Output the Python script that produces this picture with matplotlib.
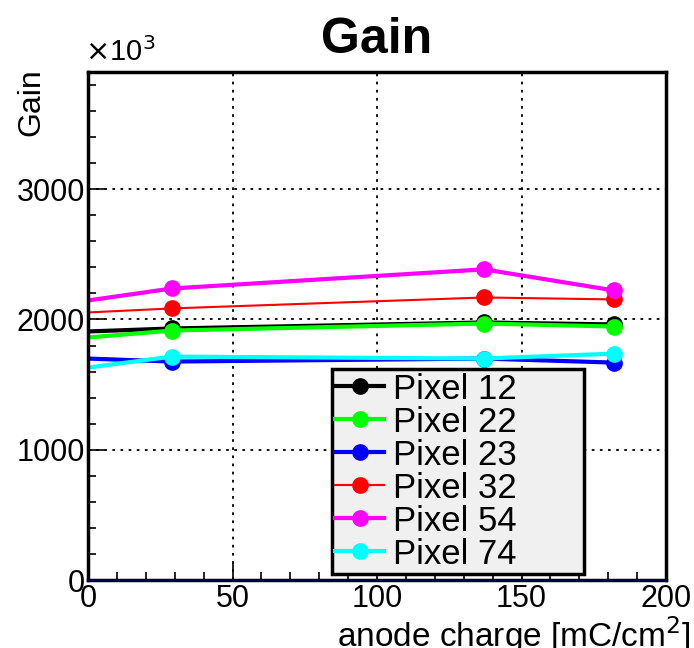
import matplotlib
matplotlib.use("Agg")
import matplotlib.pyplot as plt
from matplotlib.ticker import MultipleLocator

plt.rcParams["font.family"] = ["Liberation Sans", "DejaVu Sans"]

# anode charge [mC/cm^2]; first point sits on the axis edge (no marker drawn)
charge = [0, 29, 137, 182]

labels = ["Pixel 12", "Pixel 22", "Pixel 23", "Pixel 32", "Pixel 54", "Pixel 74"]
gain_p12 = [1908, 1931, 1977, 1962]
gain_p22 = [1862, 1915, 1969, 1946]
gain_p23 = [1700, 1677, 1700, 1669]
gain_p32 = [2054, 2085, 2169, 2154]
gain_p54 = [2146, 2238, 2385, 2223]
gain_p74 = [1631, 1715, 1700, 1738]

series = [gain_p12, gain_p22, gain_p23, gain_p32, gain_p54, gain_p74]
colors = ["black", "#00ff00", "#0000ff", "#ff0000", "#ff00ff", "#00ffff"]
widths = [3.0, 3.0, 3.0, 1.5, 3.0, 3.0]

fig = plt.figure(figsize=(6.94, 6.48), dpi=100)
ax = fig.add_axes([88 / 694, 68 / 648, 578 / 694, 508 / 648])

for vals, lab, c, lw in zip(series, labels, colors, widths):
    ax.plot(charge, vals, color=c, lw=lw, marker="o", ms=11, markevery=[1, 2, 3],
            label=lab)

ax.set_xlim(0, 200)
ax.set_ylim(0, 3900)

ax.xaxis.set_major_locator(MultipleLocator(50))
ax.xaxis.set_minor_locator(MultipleLocator(10))
ax.yaxis.set_major_locator(MultipleLocator(1000))
ax.yaxis.set_minor_locator(MultipleLocator(200))
ax.tick_params(which="both", direction="in", labelsize=22, top=False, right=False)
ax.tick_params(which="major", length=12, width=1.2)
ax.tick_params(which="minor", length=6, width=1.2)
ax.tick_params(axis="x", pad=3)
ax.tick_params(axis="y", pad=2)

ax.grid(which="major", color="black", linestyle=(0, (1.5, 3)), linewidth=1.3)

for s in ax.spines.values():
    s.set_linewidth(2.5)
ax.spines["bottom"].set_color("#000040")

ax.set_title("Gain", fontsize=36, fontweight="bold", pad=14)
ax.text(-0.005, 1.01, r"$\times$10$^3$", transform=ax.transAxes, fontsize=21,
        ha="left", va="bottom")
ax.set_ylabel("Gain", fontsize=23)
ax.yaxis.set_label_coords(-0.072, 0.94)
ax.set_xlabel("anode charge [mC/cm$^2$]", fontsize=24, ha="right")
ax.xaxis.set_label_coords(1.042, -0.068)

leg = ax.legend(loc="upper left", bbox_to_anchor=(0.422, 0.004, 0.436, 0.411),
                mode="expand", fontsize=25,
                frameon=True, fancybox=False, framealpha=1, facecolor="#f0f0f0",
                edgecolor="black", handlelength=1.4, handletextpad=0.25,
                labelspacing=0.0, borderpad=0.1, borderaxespad=0)
leg.get_frame().set_linewidth(2.5)
leg.set_zorder(5)

fig.savefig("out.png", dpi=100)
